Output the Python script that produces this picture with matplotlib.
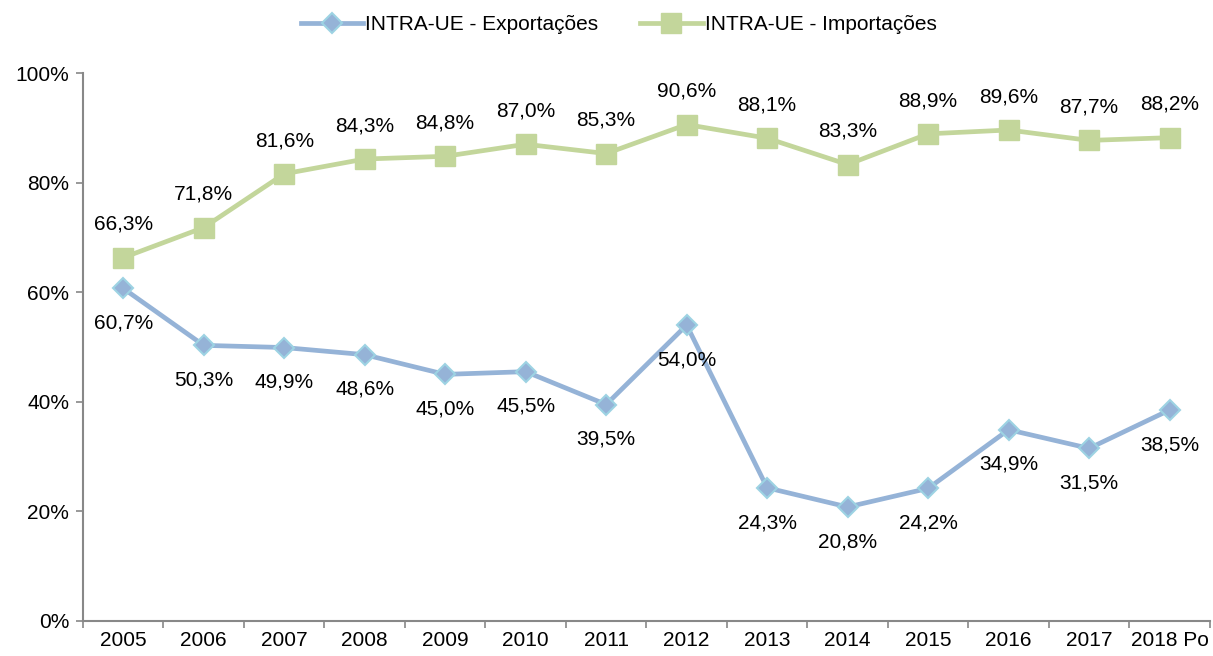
import numpy as np
import matplotlib
matplotlib.use('Agg')
import matplotlib.pyplot as plt
from matplotlib.ticker import FixedLocator, PercentFormatter

plt.rcParams['font.family'] = ['Liberation Sans', 'DejaVu Sans']

# dados
anos = ['2005', '2006', '2007', '2008', '2009', '2010', '2011', '2012',
        '2013', '2014', '2015', '2016', '2017', '2018 Po']
exportacoes = [60.7, 50.3, 49.9, 48.6, 45.0, 45.5, 39.5, 54.0,
               24.3, 20.8, 24.2, 34.9, 31.5, 38.5]
importacoes = [66.3, 71.8, 81.6, 84.3, 84.8, 87.0, 85.3, 90.6,
               88.1, 83.3, 88.9, 89.6, 87.7, 88.2]

fig = plt.figure(figsize=(12.13, 6.56), dpi=100)
ax = fig.add_axes([0.0684, 0.0534, 0.929, 0.8353])

x = np.arange(len(anos))
ax.plot(x, exportacoes, color='#95B3D7', lw=3.4, marker='D', ms=10,
        mfc='#95B3D7', mec='#9DD3E3', mew=1.5, label='INTRA-UE - Exportações', zorder=3)
ax.plot(x, importacoes, color='#C3D69B', lw=3.4, marker='s', ms=14,
        mfc='#C3D69B', mec='#C3D69B', label='INTRA-UE - Importações', zorder=3)

fmt = lambda v: f'{v:.1f}%'.replace('.', ',')
for xi, v in zip(x, importacoes):
    ax.annotate(fmt(v), (xi, v), xytext=(0, 24), textcoords='offset points',
                ha='center', va='center', fontsize=15)
for xi, v in zip(x, exportacoes):
    ax.annotate(fmt(v), (xi, v), xytext=(0, -25), textcoords='offset points',
                ha='center', va='center', fontsize=15)

ax.set_xlim(-0.5, len(anos) - 0.5)
ax.set_ylim(0, 100)
ax.set_yticks([0, 20, 40, 60, 80, 100])
ax.yaxis.set_major_formatter(PercentFormatter(decimals=0))
ax.set_xticks(x)
ax.set_xticklabels(anos)
ax.xaxis.set_minor_locator(FixedLocator(np.arange(-0.5, len(anos), 1)))
ax.tick_params(axis='x', which='major', length=0, pad=7, labelsize=15)
ax.tick_params(axis='x', which='minor', length=5, color='#888888', width=1.2)
ax.tick_params(axis='y', length=5, color='#888888', width=1.2, labelsize=15, pad=5)

for s in ['top', 'right']:
    ax.spines[s].set_visible(False)
for s in ['left', 'bottom']:
    ax.spines[s].set_color('#888888')
    ax.spines[s].set_linewidth(1.5)

fig.legend(*ax.get_legend_handles_labels(), loc='upper center',
           bbox_to_anchor=(0.51, 1.005), ncol=2, frameon=False,
           fontsize=15, handlelength=3, columnspacing=2, handletextpad=0.1)

plt.savefig('out.png', dpi=100)
